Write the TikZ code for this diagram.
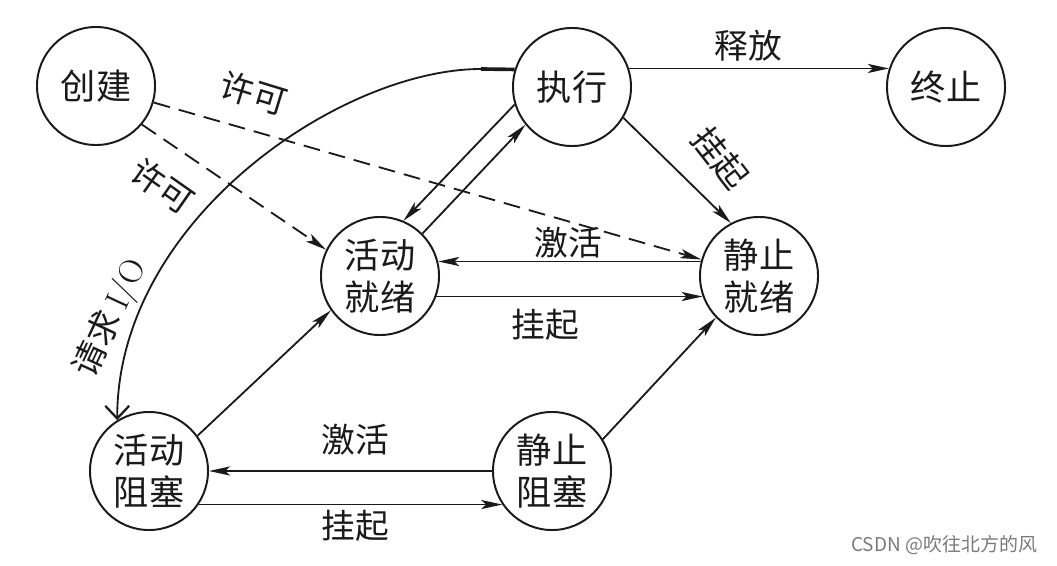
\documentclass[tikz,border=0pt]{standalone}
\usepackage{fontspec}
\usetikzlibrary{arrows.meta}
\newfontfamily\cjk{Noto Sans CJK SC}
\definecolor{inkblack}{HTML}{1A1A1A}
\definecolor{markgray}{HTML}{7A7A7A}

\begin{document}
\begin{tikzpicture}[x=0.025cm, y=-0.025cm,
    state/.style={circle, draw=inkblack, line width=1.4pt, minimum size=2.95cm, inner sep=0pt, align=center, text=inkblack, font=\cjk\fontsize{25}{30}\selectfont},
    trans/.style={draw=inkblack, line width=1.3pt, -{Stealth[length=15pt, width=6.5pt, inset=3.5pt]}},
    permit/.style={trans, dash pattern=on 12pt off 6.5pt},
    tag/.style={text=inkblack, inner sep=1pt, font=\cjk\fontsize{24}{28}\selectfont}]
  \useasboundingbox (0,0) rectangle (1057,565);
  % Estados
  \node[state] (create) at (96,86) {创建};
  \node[state] (running) at (572,87) {执行};
  \node[state] (exit) at (946,87) {终止};
  \node[state] (readya) at (380,276) {活动\\就绪};
  \node[state] (readys) at (759,276) {静止\\就绪};
  \node[state] (blocka) at (149,471) {活动\\阻塞};
  \node[state] (blocks) at (552,471) {静止\\阻塞};
  % Creacion (lineas discontinuas)
  \draw[permit] (create.-40) -- (readya.154);
  \draw[permit] (create) -- (readys);
  \node[tag, rotate=-35] (permitlow) at (163,186) {许可};
  \node[tag, rotate=-17] (permitup) at (254,93) {许可};
  % Desde ejecucion
  \draw[trans] (running.18) -- (exit.162);
  \node[tag] (release) at (748,46) {释放};
  \draw[trans] (running.-31) -- (readys.118);
  \node[tag, rotate=-52] (suspendrun) at (720,158) {挂起};
  \draw[trans] (running.197) -- (readya.67);
  \draw[trans] (readya.45) -- (running.219);
  % Listos
  \draw[trans] (readys.166) -- (readya.14);
  \node[tag] (activeready) at (568,243) {激活};
  \draw[trans] (readya.-20) -- (readys.200);
  \node[tag] (suspendready) at (545,325) {挂起};
  % Bloqueados
  \draw[trans] (blocks.180) -- (blocka.0);
  \node[tag] (activeblock) at (355,440) {激活};
  \draw[trans] (blocka.-34) -- (blocks.214);
  \node[tag] (suspendblock) at (355,526) {挂起};
  \draw[trans] (blocka.36) -- (readya.215);
  \draw[trans] (blocks.32) -- (readys.224);
  % Peticion de E/S
  \coordinate (iostart) at (481,69);
  \draw[inkblack, line width=2.6pt] (running.163) -- (iostart);
  \draw[inkblack, line width=1.3pt, -{Straight Barb[length=9pt, width=17pt, line width=1.6pt]}] (iostart) .. controls +(-140,0) and +(0,-200) .. (blocka.122);
  \node[tag, rotate=65] (request) at (111,318) {请求 \rmfamily I/O};
  % Marca
  \node[anchor=east, text=markgray, font=\cjk\fontsize{13.5}{16}\selectfont] (csdn) at (1042,545) {CSDN @吹往北方的风};
\end{tikzpicture}
\end{document}
